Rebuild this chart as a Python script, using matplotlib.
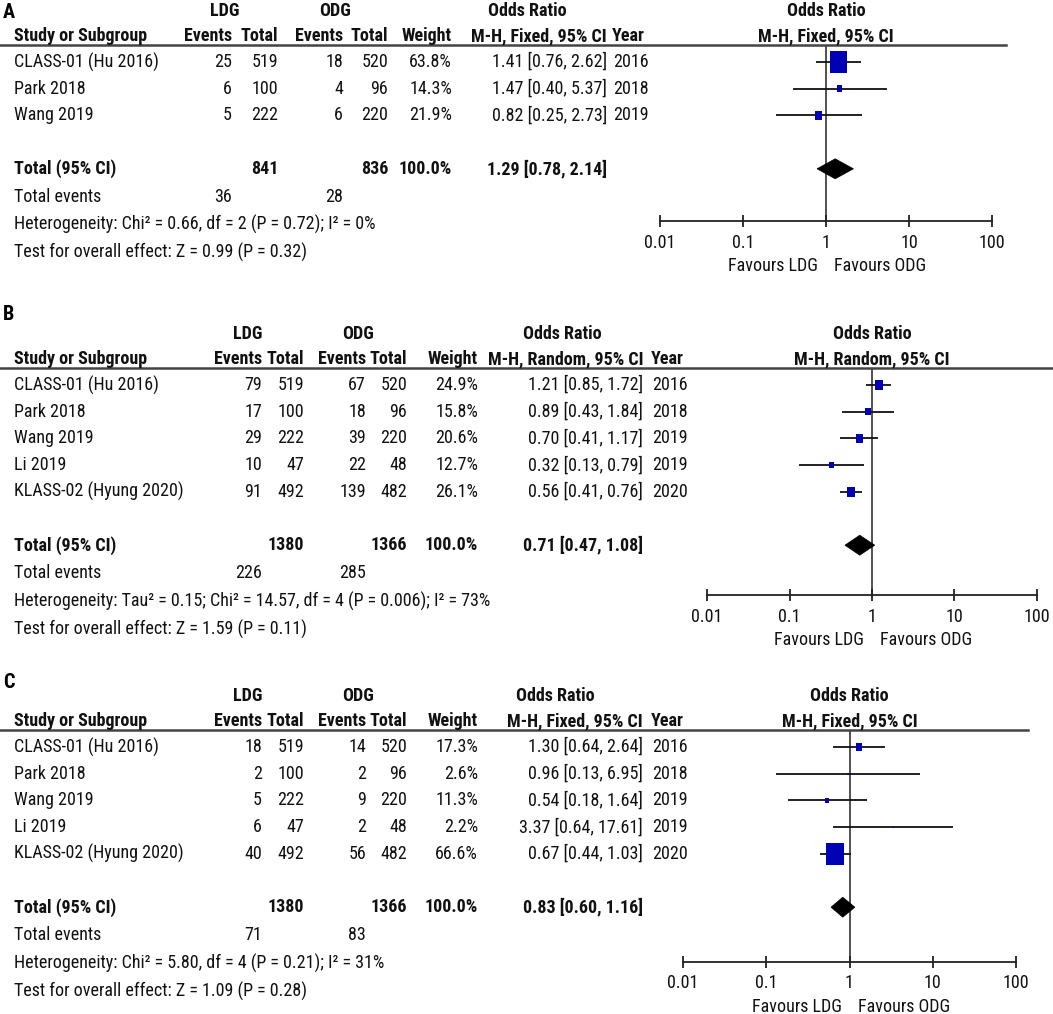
import matplotlib
matplotlib.use('Agg')
import matplotlib.pyplot as plt
from matplotlib import font_manager
from matplotlib.lines import Line2D
from matplotlib.patches import Polygon

W, H, DPI = 1053, 1014, 100


def pick_font():
    weights = {}
    for f in font_manager.fontManager.ttflist:
        if f.style == 'normal':
            weights.setdefault(f.name, set()).add(int(f.weight) if str(f.weight).isdigit() else 400)
    for name in ['Liberation Sans Narrow', 'Arial Narrow', 'Roboto Condensed', 'Archivo Narrow',
                 'IBM Plex Sans Condensed', 'Fira Sans Condensed', 'Liberation Sans']:
        ws = weights.get(name)
        if ws and 400 in ws and max(ws) >= 600:
            return name
    return 'DejaVu Sans'


FONT = pick_font()
FAM = [FONT, 'DejaVu Sans']

# ---------------- data ----------------
# Panel A
studies_a = ['CLASS-01 (Hu 2016)', 'Park 2018', 'Wang 2019']
ldg_events_a = [25, 6, 5]
ldg_total_a = [519, 100, 222]
odg_events_a = [18, 4, 6]
odg_total_a = [520, 96, 220]
weight_a = [63.8, 14.3, 21.9]
or_a = [1.41, 1.47, 0.82]
lo_a = [0.76, 0.40, 0.25]
hi_a = [2.62, 5.37, 2.73]
year_a = [2016, 2018, 2019]
totals_a = [841, 836]
pooled_a = [1.29, 0.78, 2.14]
events_sum_a = [36, 28]
het_a = 'Heterogeneity: Chi² = 0.66, df = 2 (P = 0.72); I² = 0%'
test_a = 'Test for overall effect: Z = 0.99 (P = 0.32)'
method_a = 'M-H, Fixed, 95% CI'

# Panel B
studies_b = ['CLASS-01 (Hu 2016)', 'Park 2018', 'Wang 2019', 'Li 2019', 'KLASS-02 (Hyung 2020)']
ldg_events_b = [79, 17, 29, 10, 91]
ldg_total_b = [519, 100, 222, 47, 492]
odg_events_b = [67, 18, 39, 22, 139]
odg_total_b = [520, 96, 220, 48, 482]
weight_b = [24.9, 15.8, 20.6, 12.7, 26.1]
or_b = [1.21, 0.89, 0.70, 0.32, 0.56]
lo_b = [0.85, 0.43, 0.41, 0.13, 0.41]
hi_b = [1.72, 1.84, 1.17, 0.79, 0.76]
year_b = [2016, 2018, 2019, 2019, 2020]
totals_b = [1380, 1366]
pooled_b = [0.71, 0.47, 1.08]
events_sum_b = [226, 285]
het_b = 'Heterogeneity: Tau² = 0.15; Chi² = 14.57, df = 4 (P = 0.006); I² = 73%'
test_b = 'Test for overall effect: Z = 1.59 (P = 0.11)'
method_b = 'M-H, Random, 95% CI'

# Panel C
studies_c = ['CLASS-01 (Hu 2016)', 'Park 2018', 'Wang 2019', 'Li 2019', 'KLASS-02 (Hyung 2020)']
ldg_events_c = [18, 2, 5, 6, 40]
ldg_total_c = [519, 100, 222, 47, 492]
odg_events_c = [14, 2, 9, 2, 56]
odg_total_c = [520, 96, 220, 48, 482]
weight_c = [17.3, 2.6, 11.3, 2.2, 66.6]
or_c = [1.30, 0.96, 0.54, 3.37, 0.67]
lo_c = [0.64, 0.13, 0.18, 0.64, 0.44]
hi_c = [2.64, 6.95, 1.64, 17.61, 1.03]
year_c = [2016, 2018, 2019, 2019, 2020]
totals_c = [1380, 1366]
pooled_c = [0.83, 0.60, 1.16]
events_sum_c = [71, 83]
het_c = 'Heterogeneity: Chi² = 5.80, df = 4 (P = 0.21); I² = 31%'
test_c = 'Test for overall effect: Z = 1.09 (P = 0.28)'
method_c = 'M-H, Fixed, 95% CI'

tick_vals = [0.01, 0.1, 1, 10, 100]
tick_labels = ['0.01', '0.1', '1', '10', '100']

# ---------------- layout (pixels from top-left) ----------------
colsA = [232, 278, 343, 388, 452, 607, 613]
colsBC = [262, 304, 366, 407, 478, 643, 652]
panels = [
    dict(label='A', label_y=12, first=62, cols=colsA, hdr=(225, 335, 527),
         fx=(660, 992), axis_y=221, rule_r=1006,
         studies=studies_a, e1=ldg_events_a, t1=ldg_total_a, e2=odg_events_a, t2=odg_total_a,
         w=weight_a, orr=or_a, lo=lo_a, hi=hi_a, yr=year_a, tot=totals_a, pooled=pooled_a,
         ev=events_sum_a, het=het_a, test=test_a, method=method_a),
    dict(label='B', label_y=315, first=385, cols=colsBC, hdr=(248, 358, 562),
         fx=(707, 1037), axis_y=595, rule_r=1053,
         studies=studies_b, e1=ldg_events_b, t1=ldg_total_b, e2=odg_events_b, t2=odg_total_b,
         w=weight_b, orr=or_b, lo=lo_b, hi=hi_b, yr=year_b, tot=totals_b, pooled=pooled_b,
         ev=events_sum_b, het=het_b, test=test_b, method=method_b),
    dict(label='C', label_y=682, first=747, cols=colsBC, hdr=(248, 358, 555),
         fx=(683, 1016), axis_y=962, rule_r=1028,
         studies=studies_c, e1=ldg_events_c, t1=ldg_total_c, e2=odg_events_c, t2=odg_total_c,
         w=weight_c, orr=or_c, lo=lo_c, hi=hi_c, yr=year_c, tot=totals_c, pooled=pooled_c,
         ev=events_sum_c, het=het_c, test=test_c, method=method_c),
]

ROW = 26.7
BLUE = '#0000B4'
INK = '#111111'
fig = plt.figure(figsize=(W / DPI, H / DPI), dpi=DPI)
fig.patch.set_facecolor('white')

# calibrate font size so that a study label has the reference width (~145 px)
_r = fig.canvas.get_renderer()
_t = fig.text(0, 0, 'CLASS-01 (Hu 2016)', fontsize=13, family=FAM)
_w = _t.get_window_extent(renderer=_r).width
_t.remove()
FS = min(14.0, 13 * 145.0 / _w)


def fx_(x):
    return x / W


def fy_(y):
    return 1 - y / H


def txt(x, y, s, ha='left', bold=False, size=None, color=INK):
    fig.text(fx_(x), fy_(y), s, ha=ha, va='center', fontsize=size or FS,
             fontweight='bold' if bold else 'normal', family=FAM, color=color)


SQUARE = [(-0.4, -0.5), (0.4, -0.5), (0.4, 0.5), (-0.4, 0.5), (-0.4, -0.5)]

for p in panels:
    c = p['cols']
    first = p['first']
    n = len(p['studies'])
    h1 = first - 51
    h2 = first - 26
    rule_y = first - 17
    tot_y = first + ROW * (n + 1)

    txt(3, p['label_y'], p['label'], bold=True, size=FS * 1.12, color='black')

    # table header
    txt(p['hdr'][0], h1, 'LDG', ha='center', bold=True)
    txt(p['hdr'][1], h1, 'ODG', ha='center', bold=True)
    txt(p['hdr'][2], h1, 'Odds Ratio', ha='center', bold=True)
    txt(14, h2, 'Study or Subgroup', bold=True)
    txt(c[0], h2, 'Events', ha='right', bold=True)
    txt(c[1], h2, 'Total', ha='right', bold=True)
    txt(c[2], h2, 'Events', ha='right', bold=True)
    txt(c[3], h2, 'Total', ha='right', bold=True)
    txt(c[4], h2, 'Weight', ha='right', bold=True)
    txt(c[5], h2, p['method'], ha='right', bold=True)
    txt(c[6] - 1, h2, 'Year', bold=True)

    fig.add_artist(Line2D([0, fx_(p['rule_r'])], [fy_(rule_y), fy_(rule_y)],
                          color='#444444', lw=1.8, transform=fig.transFigure))

    for i in range(n):
        y = first + ROW * i
        txt(14, y, p['studies'][i])
        txt(c[0], y, str(p['e1'][i]), ha='right')
        txt(c[1], y, str(p['t1'][i]), ha='right')
        txt(c[2], y, str(p['e2'][i]), ha='right')
        txt(c[3], y, str(p['t2'][i]), ha='right')
        txt(c[4], y, f"{p['w'][i]:.1f}%", ha='right')
        txt(c[5], y, f"{p['orr'][i]:.2f} [{p['lo'][i]:.2f}, {p['hi'][i]:.2f}]", ha='right')
        txt(c[6], y, str(p['yr'][i]))

    pl = p['pooled']
    txt(14, tot_y, 'Total (95% CI)', bold=True)
    txt(c[1], tot_y, str(p['tot'][0]), ha='right', bold=True)
    txt(c[3], tot_y, str(p['tot'][1]), ha='right', bold=True)
    txt(c[4], tot_y, '100.0%', ha='right', bold=True)
    txt(c[5], tot_y, f"{pl[0]:.2f} [{pl[1]:.2f}, {pl[2]:.2f}]", ha='right', bold=True)
    txt(14, tot_y + 28, 'Total events')
    txt(c[0], tot_y + 28, str(p['ev'][0]), ha='right')
    txt(c[2], tot_y + 28, str(p['ev'][1]), ha='right')
    txt(14, tot_y + 56, p['het'])
    txt(14, tot_y + 84, p['test'])

    # forest plot axes (log odds ratio, rows in pixel units)
    x0, x1 = p['fx']
    ay = p['axis_y']
    ax = fig.add_axes([fx_(x0), fy_(ay), (x1 - x0) / W, (ay - rule_y) / H])
    ax.set_xscale('log')
    ax.set_xlim(0.01, 100)
    ax.set_ylim(ay, rule_y)
    ax.patch.set_alpha(0)
    for s in ['top', 'left', 'right']:
        ax.spines[s].set_visible(False)
    ax.spines['bottom'].set_linewidth(1.3)
    ax.spines['bottom'].set_color('#222222')
    ax.set_yticks([])
    ax.set_xticks(tick_vals)
    ax.set_xticklabels(tick_labels, family=FAM, fontsize=FS, color=INK)
    ax.minorticks_off()
    ax.tick_params(axis='x', direction='inout', length=8, width=1.3, pad=5, color='#222222')
    ax.axvline(1, color='#222222', lw=1.1, zorder=1)

    ys = [first + ROW * i for i in range(n)]
    ax.hlines(ys, p['lo'], p['hi'], color=INK, lw=1.3, zorder=2)
    sizes = [(max(2.0, 0.77 * w ** 0.8) * 72 / DPI) ** 2 for w in p['w']]
    ax.scatter(p['orr'], ys, s=sizes, marker=SQUARE, color=BLUE, linewidths=0, zorder=3)

    dia = Polygon([[pl[1], tot_y], [pl[0], tot_y - 10], [pl[2], tot_y], [pl[0], tot_y + 10]],
                  closed=True, facecolor='black', edgecolor='black', lw=0.5, zorder=3)
    ax.add_patch(dia)

    mid = (x0 + x1) / 2
    txt(mid, h1, 'Odds Ratio', ha='center', bold=True)
    txt(mid, h2, p['method'], ha='center', bold=True)
    txt(mid - 8, ay + 45, 'Favours LDG', ha='right')
    txt(mid + 8, ay + 45, 'Favours ODG', ha='left')

fig.savefig('out.png', dpi=DPI, facecolor='white')
